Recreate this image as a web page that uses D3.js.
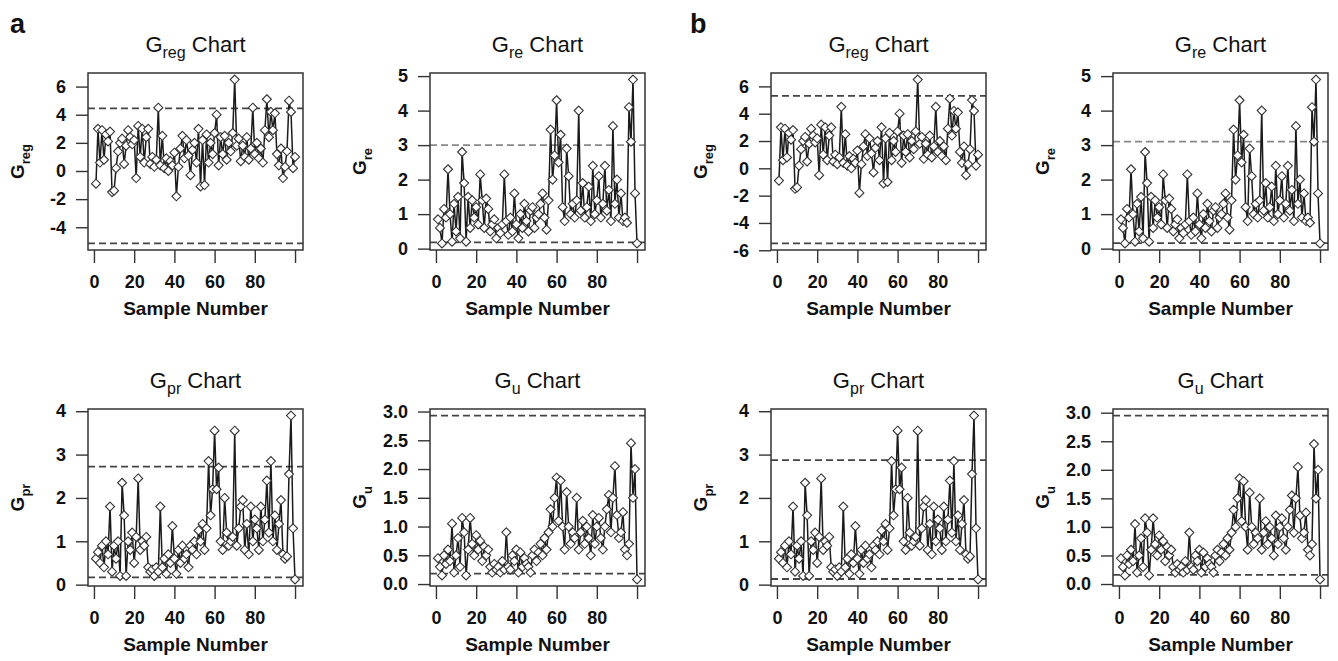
<!DOCTYPE html>
<html>
<head>
<meta charset="utf-8">
<script src="https://cdn.jsdelivr.net/npm/d3@7"></script>
<style>
  body { margin: 0; background: #fff; }
  text { font-family: "Liberation Sans", Arial, sans-serif; fill: #111; }
</style>
</head>
<body>
<script>
// sample numbers 1..100
var samples = d3.range(1, 101);

// G_reg statistic per sample
var gReg = [-0.9, 3.0, 0.6, 2.9, 0.8, 2.6, 2.1, 2.8, -1.5, -1.4,
            0.2, 1.4, 2.0, 2.3, 0.5, 1.8, 2.9, 2.4, 1.9, 2.2,
            -0.5, 3.2, 1.0, 3.0, 0.6, 2.4, 3.0, 0.5, 1.0, 0.3,
            0.8, 4.5, 0.4, 2.5, 0.2, 0.9, 0.0, 0.7, 0.4, 1.3,
            -1.8, 0.3, 1.6, 2.5, 0.9, 2.2, 1.1, -0.3, 1.5, 2.0,
            0.6, 3.0, -1.1, 2.2, -1.0, 2.6, 0.6, 2.0, 1.2, 2.7,
            4.0, 0.4, 2.4, 1.2, 2.5, 0.8, 2.0, 1.4, 2.7, 6.5,
            1.8, 2.3, 0.7, 1.8, 1.0, 2.4, 0.8, 1.6, 4.5, 1.2,
            2.0, 0.9, 1.6, 0.6, 2.9, 5.1, 2.4, 4.2, 2.9, 4.1,
            1.2, 0.4, 1.6, -0.5, 0.3, 1.4, 5.0, 4.2, 0.2, 1.0];

// G_re statistic per sample
var gRe = [0.85, 0.6, 0.15, 1.15, 0.9, 2.3, 1.0, 0.2, 1.3, 0.5,
           1.5, 0.3, 2.8, 1.9, 0.2, 1.5, 0.6, 1.4, 0.9, 1.2,
           0.7, 2.15, 1.4, 0.6, 1.45, 1.15, 0.5, 0.7, 0.85, 0.3,
           0.6, 0.45, 0.7, 2.15, 0.8, 0.4, 0.9, 0.5, 1.6, 0.7,
           0.3, 1.0, 0.6, 1.3, 0.8, 0.5, 1.1, 1.2, 0.6, 0.9,
           1.0, 1.3, 1.6, 0.9, 0.55, 1.4, 3.45, 2.0, 2.7, 4.3,
           2.5, 3.3, 1.2, 0.8, 2.9, 2.1, 1.0, 1.3, 0.9, 1.4,
           4.0, 1.1, 1.9, 0.9, 1.2, 1.8, 0.8, 2.4, 1.0, 1.4,
           2.1, 0.9, 1.3, 2.4, 1.1, 1.7, 0.8, 3.55, 1.3, 2.0,
           0.9, 1.6, 0.8, 0.9, 0.75, 4.1, 3.1, 4.9, 1.6, 0.15];

// G_pr statistic per sample
var gPr = [0.6, 0.75, 0.5, 0.9, 0.4, 1.0, 0.7, 1.8, 0.3, 0.9,
           0.6, 1.0, 0.2, 2.35, 1.6, 0.2, 1.0, 0.8, 1.2, 0.5,
           1.1, 2.45, 0.8, 1.0, 0.9, 1.1, 0.4, 0.3, 0.35, 0.2,
           0.4, 0.3, 1.8, 0.4, 0.6, 0.25, 0.7, 0.5, 1.35, 0.6,
           0.25, 0.8, 0.5, 0.9, 0.6, 0.7, 0.4, 0.9, 0.8, 1.0,
           0.7, 1.25, 1.0, 1.4, 0.8, 1.3, 2.85, 1.6, 2.2, 3.55,
           2.2, 2.7, 1.0, 0.8, 2.0, 1.2, 0.9, 1.0, 1.1, 3.55,
           0.9, 1.3, 1.8, 1.95, 0.8, 1.4, 0.7, 1.8, 1.0, 1.5,
           1.3, 0.8, 1.8, 1.0, 1.5, 2.4, 1.2, 2.85, 1.0, 1.6,
           0.8, 1.4, 1.95, 0.7, 0.6, 0.65, 2.55, 3.9, 1.3, 0.12];

// G_u statistic per sample
var gU = [0.45, 0.3, 0.15, 0.5, 0.35, 0.6, 0.4, 1.05, 0.2, 0.5,
          0.8, 0.3, 1.15, 0.9, 0.15, 0.6, 1.15, 0.7, 0.5, 0.85,
          0.6, 0.75, 0.4, 0.65, 0.5, 0.6, 0.3, 0.2, 0.35, 0.25,
          0.3, 0.2, 0.4, 0.25, 0.9, 0.3, 0.25, 0.5, 0.4, 0.6,
          0.2, 0.55, 0.3, 0.45, 0.35, 0.3, 0.2, 0.5, 0.6, 0.4,
          0.55, 0.7, 0.5, 0.8, 0.6, 0.9, 1.3, 1.0, 1.5, 1.85,
          1.1, 1.8, 1.0, 0.6, 1.6, 1.0, 0.7, 0.9, 0.8, 1.5,
          0.6, 0.9, 1.1, 0.7, 1.0, 0.8, 0.5, 1.2, 0.7, 1.0,
          1.15, 0.8, 0.6, 1.0, 1.3, 1.55, 0.9, 1.5, 2.05, 1.2,
          0.8, 0.9, 1.25, 0.6, 0.5, 0.7, 2.45, 1.5, 2.0, 0.08];

// control limits [UCL, LCL] for parts a and b
var limitsA = {reg: [4.45, -5.15], re: [3.0, 0.18], pr: [2.72, 0.17], u: [2.93, 0.18]};
var limitsB = {reg: [5.3, -5.5], re: [3.1, 0.16], pr: [2.87, 0.13], u: [2.95, 0.16]};

// tick labels
var xTicks = [0, 20, 40, 60, 80, 100];
var xTickLabels = ["0", "20", "40", "60", "80", ""];
var yTicksRegA = [-4, -2, 0, 2, 4, 6];
var yTicksRegB = [-6, -4, -2, 0, 2, 4, 6];
var yTicksRe = [0, 1, 2, 3, 4, 5];
var yTicksPr = [0, 1, 2, 3, 4];
var yTicksU = [0, 0.5, 1, 1.5, 2, 2.5, 3];

var width = 1338, height = 661;
var boxW = 215, boxH = 177;
var colLeft = [88, 430, 771, 1113];
var rowTop = [73, 409];

// R prints a plain hyphen as minus
function intFmt(d) { return String(d); }
function oneFmt(d) { return d.toFixed(1); }

var svg = d3.select("body").append("svg")
  .attr("width", width)
  .attr("height", height);

// panel letters
svg.append("text").attr("x", 10).attr("y", 33)
  .style("font-size", "27px").style("font-weight", "bold").text("a");
svg.append("text").attr("x", 690).attr("y", 33)
  .style("font-size", "27px").style("font-weight", "bold").text("b");

var panels = [
  {col: 0, row: 0, sub: "reg", data: gReg, lim: limitsA.reg, ticks: yTicksRegA, fmt: intFmt},
  {col: 1, row: 0, sub: "re",  data: gRe,  lim: limitsA.re,  ticks: yTicksRe,   fmt: intFmt, light: true},
  {col: 0, row: 1, sub: "pr",  data: gPr,  lim: limitsA.pr,  ticks: yTicksPr,   fmt: intFmt},
  {col: 1, row: 1, sub: "u",   data: gU,   lim: limitsA.u,   ticks: yTicksU,    fmt: oneFmt},
  {col: 2, row: 0, sub: "reg", data: gReg, lim: limitsB.reg, ticks: yTicksRegB, fmt: intFmt},
  {col: 3, row: 0, sub: "re",  data: gRe,  lim: limitsB.re,  ticks: yTicksRe,   fmt: intFmt, light: true},
  {col: 2, row: 1, sub: "pr",  data: gPr,  lim: limitsB.pr,  ticks: yTicksPr,   fmt: intFmt},
  {col: 3, row: 1, sub: "u",   data: gU,   lim: limitsB.u,   ticks: yTicksU,    fmt: oneFmt}
];

panels.forEach(function(p) {
  var left = colLeft[p.col];
  var top = rowTop[p.row];
  var g = svg.append("g").attr("transform", "translate(" + left + "," + top + ")");

  // R style 4% axis expansion
  var all = p.data.concat(p.lim);
  var lo = d3.min(all), hi = d3.max(all);
  var pad = (hi - lo) * 0.04;
  var x = d3.scaleLinear().domain([1 - 99 * 0.04, 100 + 99 * 0.04]).range([0, boxW]);
  var y = d3.scaleLinear().domain([lo - pad, hi + pad]).range([boxH, 0]);

  // title
  var t = g.append("text").attr("x", boxW / 2).attr("y", -21)
    .attr("text-anchor", "middle").style("font-size", "22px");
  t.append("tspan").text("G");
  t.append("tspan").attr("dy", 6).style("font-size", "16px").text(p.sub);
  t.append("tspan").attr("dy", -6).text(" Chart");

  // y axis
  var yAxis = d3.axisLeft(y).tickValues(p.ticks).tickFormat(p.fmt)
    .tickSize(12).tickPadding(10);
  var ya = g.append("g").call(yAxis);
  ya.select(".domain").remove();
  ya.selectAll("line").attr("stroke", "#333").attr("stroke-width", 1.4);
  ya.selectAll("text").style("font-size", "18px").style("font-weight", "bold")
    .style("font-family", "Liberation Sans, Arial, sans-serif").attr("fill", "#111");

  // x axis
  var xAxis = d3.axisBottom(x).tickValues(xTicks)
    .tickFormat(function(d, i) { return xTickLabels[i]; })
    .tickSize(13).tickPadding(12);
  var xa = g.append("g").attr("transform", "translate(0," + boxH + ")").call(xAxis);
  xa.select(".domain").remove();
  xa.selectAll("line").attr("stroke", "#333").attr("stroke-width", 1.4);
  xa.selectAll("text").style("font-size", "18px").style("font-weight", "bold")
    .style("font-family", "Liberation Sans, Arial, sans-serif").attr("fill", "#111");

  // axis labels
  g.append("text").attr("x", boxW / 2).attr("y", boxH + 65)
    .attr("text-anchor", "middle").style("font-size", "19px").style("font-weight", "bold")
    .text("Sample Number");

  var yl = g.append("text")
    .attr("transform", "translate(-64," + (boxH / 2) + ") rotate(-90)")
    .attr("text-anchor", "middle").style("font-size", "19px").style("font-weight", "bold");
  yl.append("tspan").text("G");
  yl.append("tspan").attr("dy", 6).style("font-size", "13px").text(p.sub);

  // control limits
  g.selectAll(".lim").data(p.lim).enter().append("line")
    .attr("x1", 0).attr("x2", boxW)
    .attr("y1", function(d) { return y(d); })
    .attr("y2", function(d) { return y(d); })
    .attr("stroke", function(d, i) { return (p.light && i === 0) ? "#888" : "#444"; })
    .attr("stroke-width", 1.8)
    .attr("stroke-dasharray", "7,4");

  // series line
  var line = d3.line()
    .x(function(d, i) { return x(samples[i]); })
    .y(function(d) { return y(d); });
  g.append("path").datum(p.data)
    .attr("d", line)
    .attr("fill", "none")
    .attr("stroke", "#1a1a1a")
    .attr("stroke-width", 1.5);

  // diamonds
  g.selectAll(".pt").data(p.data).enter().append("path")
    .attr("d", "M0,-4.5L4.5,0L0,4.5L-4.5,0Z")
    .attr("transform", function(d, i) { return "translate(" + x(samples[i]) + "," + y(d) + ")"; })
    .attr("fill", "#fff")
    .attr("stroke", "#333")
    .attr("stroke-width", 1.1);

  // box
  g.append("rect").attr("width", boxW).attr("height", boxH)
    .attr("fill", "none").attr("stroke", "#333").attr("stroke-width", 1.5);
});
</script>
</body>
</html>
